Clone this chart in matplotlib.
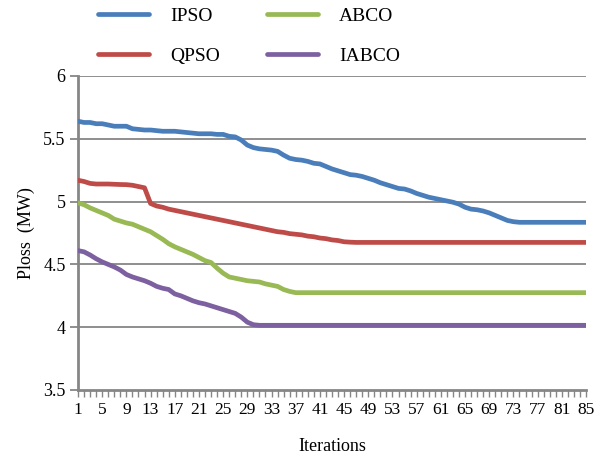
import numpy as np
import matplotlib
matplotlib.use('Agg')
import matplotlib.pyplot as plt
from matplotlib.ticker import MultipleLocator, FixedLocator, FormatStrFormatter

plt.rcParams['font.family'] = ['Liberation Serif', 'DejaVu Serif']

iterations = list(range(1, 86))

ipso = [5.64, 5.63, 5.63, 5.62, 5.62, 5.61, 5.60, 5.60, 5.60, 5.58,
        5.575, 5.57, 5.57, 5.565, 5.56, 5.56, 5.56, 5.555, 5.55, 5.545,
        5.54, 5.54, 5.54, 5.535, 5.535, 5.52, 5.515, 5.49, 5.45, 5.43,
        5.42, 5.415, 5.41, 5.40, 5.37, 5.345, 5.335, 5.33, 5.32, 5.305,
        5.30, 5.28, 5.26, 5.245, 5.23, 5.215, 5.21, 5.20, 5.185, 5.17,
        5.15, 5.135, 5.12, 5.105, 5.10, 5.085, 5.065, 5.05, 5.035, 5.025,
        5.015, 5.005, 4.995, 4.98, 4.955, 4.94, 4.935, 4.925, 4.91, 4.89,
        4.87, 4.85, 4.84] + [4.835] * 12

qpso = [5.17, 5.16, 5.145, 5.14, 5.14, 5.14, 5.138, 5.136, 5.135, 5.13,
        5.12, 5.11, 4.985, 4.965, 4.955, 4.94, 4.93, 4.92, 4.91, 4.90,
        4.89, 4.88, 4.87, 4.86, 4.85, 4.84, 4.83, 4.82, 4.81, 4.80,
        4.79, 4.78, 4.77, 4.76, 4.755, 4.745, 4.74, 4.735, 4.725, 4.72,
        4.71, 4.705, 4.695, 4.69, 4.68, 4.677] + [4.675] * 39

abco = [4.99, 4.975, 4.95, 4.93, 4.91, 4.89, 4.86, 4.845, 4.83, 4.82,
        4.80, 4.78, 4.76, 4.73, 4.70, 4.665, 4.64, 4.62, 4.60, 4.58,
        4.555, 4.53, 4.515, 4.47, 4.43, 4.40, 4.39, 4.38, 4.37, 4.365,
        4.36, 4.345, 4.335, 4.325, 4.30, 4.285] + [4.275] * 49

iabco = [4.61, 4.60, 4.575, 4.545, 4.52, 4.50, 4.48, 4.455, 4.42, 4.40,
         4.385, 4.37, 4.35, 4.325, 4.31, 4.30, 4.265, 4.25, 4.23, 4.21,
         4.195, 4.185, 4.17, 4.155, 4.14, 4.125, 4.11, 4.08, 4.04, 4.02] + [4.015] * 55

series = [('IPSO', ipso, '#4a7ebb'),
          ('QPSO', qpso, '#be4b48'),
          ('ABCO', abco, '#98b954'),
          ('IABCO', iabco, '#7d60a0')]

x_labels = list(range(1, 86, 4))

fig = plt.figure(figsize=(5.94, 4.57), dpi=100)
ax = fig.add_axes([78 / 594, 1 - 390 / 457, 508 / 594, 314 / 457])

grid_col = '#868686'
for yv in np.arange(4.0, 6.01, 0.5):
    ax.axhline(yv, color=grid_col, lw=1.3, zorder=1)

handles = []
for name, vals, col in series:
    h, = ax.plot(iterations, vals, color=col, lw=3.4, label=name,
                 solid_capstyle='round', zorder=3)
    handles.append(h)

ax.set_xlim(1, 85)
ax.set_ylim(3.5, 6)
ax.yaxis.set_major_locator(MultipleLocator(0.5))
ax.yaxis.set_major_formatter(FormatStrFormatter('%g'))
ax.xaxis.set_major_locator(FixedLocator(x_labels))
ax.xaxis.set_minor_locator(MultipleLocator(1))

for s in ['top', 'right']:
    ax.spines[s].set_visible(False)
for s in ['left', 'bottom']:
    ax.spines[s].set_color(grid_col)
    ax.spines[s].set_linewidth(2)
    ax.spines[s].set_zorder(2)

ax.tick_params(axis='y', which='major', length=6, width=1.3, color=grid_col,
               labelsize=13, pad=3)
ax.tick_params(axis='x', which='both', length=5, width=1, color=grid_col,
               labelsize=12.5, pad=4)

ax.set_xlabel('Iterations', fontsize=13, labelpad=14)
ax.set_ylabel('Ploss  (MW)', fontsize=13, labelpad=6)

fig.legend(handles=handles, ncol=2, loc='upper left',
           bbox_to_anchor=(98 / 594, 1 - 7 / 457), frameon=False,
           fontsize=14, handlelength=2.6, handletextpad=1.1,
           columnspacing=2.45, labelspacing=1.15, borderpad=0,
           borderaxespad=0)

fig.savefig('out.png', dpi=100)
